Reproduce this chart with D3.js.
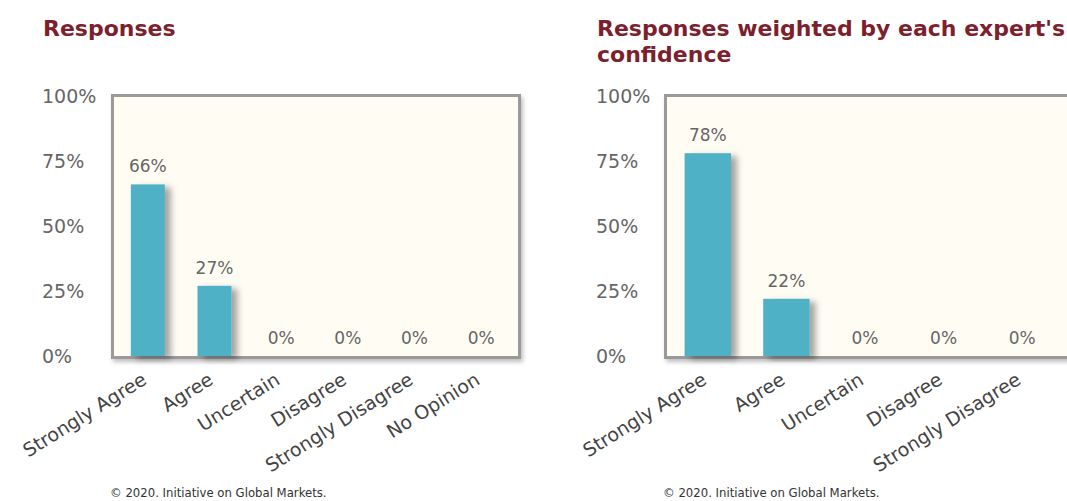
<!DOCTYPE html>
<html>
<head>
<meta charset="utf-8">
<script src="https://cdn.jsdelivr.net/npm/d3@7"></script>
<style>
  body { margin: 0; background: #fff; }
  svg { display: block; font-family: "DejaVu Sans", Verdana, sans-serif; }
</style>
</head>
<body>
<svg id="chart" width="1067" height="501"></svg>
<script>
// data
const categoriesLeft = ["Strongly Agree", "Agree", "Uncertain", "Disagree", "Strongly Disagree", "No Opinion"];
const valuesLeft = [66, 27, 0, 0, 0, 0];
const categoriesRight = ["Strongly Agree", "Agree", "Uncertain", "Disagree", "Strongly Disagree"];
const valuesRight = [78, 22, 0, 0, 0];
const yTicks = [0, 25, 50, 75, 100];
const titleLeft = ["Responses"];
const titleRight = ["Responses weighted by each expert's", "confidence"];
const footer = "\u00a9 2020. Initiative on Global Markets.";

const svg = d3.select("#chart");
const defs = svg.append("defs");

defs.append("filter").attr("id", "barShadow")
    .attr("x", "-20%").attr("y", "-10%").attr("width", "160%").attr("height", "120%")
  .append("feDropShadow")
    .attr("dx", 6).attr("dy", 3).attr("stdDeviation", 3)
    .attr("flood-color", "#000").attr("flood-opacity", 0.35);

defs.append("filter").attr("id", "frameShadow")
    .attr("x", "-5%").attr("y", "-5%").attr("width", "110%").attr("height", "115%")
  .append("feDropShadow")
    .attr("dx", 2).attr("dy", 3).attr("stdDeviation", 2)
    .attr("flood-color", "#000").attr("flood-opacity", 0.25);

function drawChart(opt) {
    const g = svg.append("g");
    const top = 96, bottom = 356;

    // title
    opt.title.forEach(function (t, i) {
        g.append("text")
            .attr("x", opt.titleX).attr("y", 36 + i * 26)
            .attr("fill", "#7d1f2d")
            .attr("font-weight", "bold")
            .attr("font-size", 22)
            .text(t);
    });

    const x = d3.scaleBand()
        .domain(opt.categories)
        .range(opt.range)
        .paddingInner(opt.pad).paddingOuter(opt.pad / 2);

    const y = d3.scaleLinear().domain([0, 100]).range([bottom, top]);

    // frame
    g.append("rect")
        .attr("x", opt.frameX).attr("y", top - 0.5)
        .attr("width", opt.frameW).attr("height", bottom - top + 2)
        .attr("fill", "#fffcf4")
        .attr("stroke", "#9a9a9a").attr("stroke-width", 3)
        .attr("filter", "url(#frameShadow)");

    // y axis labels, left aligned
    const yAxis = d3.axisLeft(y).tickValues(yTicks).tickSize(0).tickPadding(0)
        .tickFormat(d => d + "%");
    const ya = g.append("g").attr("transform", "translate(" + opt.titleX + ",0)").call(yAxis);
    ya.select(".domain").remove();
    ya.selectAll("text")
        .attr("font-family", "DejaVu Sans, Verdana, sans-serif")
        .attr("font-size", 19).attr("fill", "#666")
        .attr("text-anchor", "start")
        .attr("x", -1)
        .attr("dy", "0.35em");

    const data = opt.categories.map((c, i) => ({ c: c, v: opt.values[i] }));

    // bars
    g.selectAll(".bar").data(data.filter(d => d.v > 0)).join("rect")
        .attr("class", "bar")
        .attr("x", d => x(d.c)).attr("width", x.bandwidth())
        .attr("y", d => y(d.v)).attr("height", d => bottom - y(d.v))
        .attr("fill", "#4fb1c5")
        .attr("filter", "url(#barShadow)");

    // value labels
    g.selectAll(".val").data(data).join("text")
        .attr("x", d => x(d.c) + x.bandwidth() / 2)
        .attr("y", d => y(d.v) - 12)
        .attr("text-anchor", "middle")
        .attr("font-size", 17).attr("fill", "#666")
        .text(d => d.v + "%");

    // x labels
    const xAxis = d3.axisBottom(x).tickSize(0).tickSizeOuter(0);
    const xa = g.append("g").attr("transform", "translate(0," + 383 + ")").call(xAxis);
    xa.select(".domain").remove();
    xa.selectAll("text")
        .attr("font-family", "DejaVu Sans, Verdana, sans-serif")
        .attr("font-size", 19).attr("fill", "#444")
        .attr("text-anchor", "end")
        .attr("dy", 0).attr("y", 0)
        .attr("transform", "rotate(-32)");

    // footer
    g.append("text")
        .attr("x", opt.footerX).attr("y", 497)
        .attr("font-size", 11.7).attr("fill", "#333")
        .text(footer);
}

drawChart({
    title: titleLeft, titleX: 43,
    categories: categoriesLeft, values: valuesLeft,
    range: [114.5, 514.5], frameX: 112.5, frameW: 407, pad: 0.49, footerX: 110
});

drawChart({
    title: titleRight, titleX: 597,
    categories: categoriesRight, values: valuesRight,
    range: [668.5, 1061.5], frameX: 665.5, frameW: 420, pad: 0.41, footerX: 663
});
</script>
</body>
</html>
